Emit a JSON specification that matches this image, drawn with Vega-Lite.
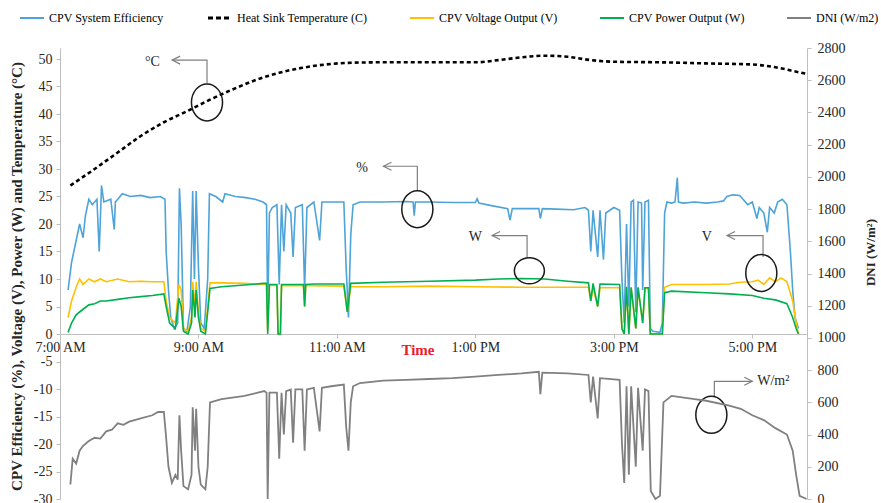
{
  "$schema": "https://vega.github.io/schema/vega-lite/v6.json",
  "width": 747,
  "height": 451,
  "autosize": {"type": "none"},
  "padding": {"left": 60, "top": 48, "right": 74, "bottom": 4},
  "background": "white",
  "config": {
    "font": "Liberation Serif",
    "view": {"stroke": null},
    "axis": {"grid": false, "domainColor": "#bfbfbf", "tickColor": "#bfbfbf", "labelColor": "#262626", "labelFontSize": 14, "labelFont": "Liberation Serif", "titleFont": "Liberation Serif", "titleColor": "#262626", "tickSize": 4}
  },
  "datasets": {
    "eff": [
      {"t":427,"v":8},{"t":430,"v":13},{"t":434,"v":17},{"t":437,"v":20},{"t":440,"v":17.5},{"t":442,"v":21.5},{"t":445,"v":24.5},{"t":448,"v":23.5},{"t":452,"v":24.5},{"t":454,"v":15},{"t":456,"v":27},{"t":458,"v":24},{"t":464,"v":24.5},{"t":467,"v":19},{"t":468,"v":24},{"t":474,"v":25.5},{"t":481,"v":25},{"t":490,"v":25.2},{"t":498,"v":24.8},{"t":507,"v":25},{"t":511,"v":24.5},{"t":512,"v":15},{"t":514,"v":8},{"t":516,"v":3},{"t":519,"v":1},{"t":522,"v":2},{"t":523.5,"v":26.5},{"t":525,"v":20},{"t":527,"v":1},{"t":530,"v":0.5},{"t":533,"v":5},{"t":535,"v":26},{"t":536.5,"v":10},{"t":538,"v":26},{"t":540,"v":12},{"t":542,"v":2},{"t":545,"v":1},{"t":548,"v":10},{"t":549.5,"v":25.5},{"t":555,"v":25},{"t":561,"v":24},{"t":563,"v":25.5},{"t":572,"v":25},{"t":581,"v":24.8},{"t":589,"v":24.5},{"t":596,"v":24},{"t":599,"v":23.5},{"t":600,"v":3},{"t":601.5,"v":22},{"t":604,"v":23},{"t":608,"v":23.5},{"t":610,"v":9},{"t":612,"v":23.5},{"t":614,"v":15},{"t":616,"v":23.5},{"t":620,"v":22},{"t":622,"v":14},{"t":624,"v":23},{"t":630,"v":23.5},{"t":632,"v":8},{"t":634,"v":23},{"t":640,"v":24},{"t":645,"v":17},{"t":647,"v":24},{"t":655,"v":24},{"t":666,"v":24},{"t":668,"v":12},{"t":670,"v":3},{"t":672,"v":18},{"t":674,"v":23.5},{"t":680,"v":24},{"t":700,"v":24},{"t":720,"v":24.1},{"t":726,"v":24},{"t":727,"v":21.5},{"t":728,"v":24},{"t":740,"v":24},{"t":760,"v":23.9},{"t":780,"v":23.9},{"t":781.5,"v":24.6},{"t":783,"v":23.8},{"t":795,"v":23.3},{"t":808,"v":22.8},{"t":810,"v":20.7},{"t":812,"v":22.8},{"t":825,"v":22.8},{"t":835,"v":22.8},{"t":836.3,"v":21},{"t":838,"v":22.8},{"t":850,"v":22.7},{"t":865,"v":22.6},{"t":875,"v":23},{"t":878,"v":22.5},{"t":880,"v":15},{"t":882,"v":22.5},{"t":886,"v":14},{"t":888,"v":22.5},{"t":891,"v":13.5},{"t":893,"v":22},{"t":900,"v":23},{"t":905,"v":22.5},{"t":907,"v":10},{"t":909,"v":2},{"t":911,"v":20},{"t":913,"v":5},{"t":915,"v":24},{"t":917,"v":24.3},{"t":919,"v":4},{"t":921,"v":24},{"t":924,"v":23.8},{"t":925,"v":8},{"t":927,"v":24},{"t":930,"v":24.3},{"t":931.6,"v":1},{"t":934,"v":0.5},{"t":940,"v":0.3},{"t":942,"v":2},{"t":944,"v":22},{"t":946,"v":24},{"t":950,"v":23.8},{"t":953,"v":24},{"t":955,"v":28.4},{"t":956,"v":24},{"t":960,"v":23.8},{"t":970,"v":24},{"t":980,"v":23.8},{"t":990,"v":24},{"t":995,"v":24.2},{"t":998,"v":25},{"t":1003,"v":25.3},{"t":1009,"v":25.2},{"t":1012,"v":24.5},{"t":1016,"v":23.5},{"t":1020,"v":24},{"t":1024,"v":21},{"t":1026,"v":23},{"t":1030,"v":22},{"t":1033,"v":18.5},{"t":1035,"v":23},{"t":1039,"v":22},{"t":1042,"v":24},{"t":1046,"v":24.5},{"t":1050,"v":23.5},{"t":1053,"v":15},{"t":1055,"v":8},{"t":1057,"v":3},{"t":1060,"v":1}
    ],
    "volt": [
      {"t":427,"v":3},{"t":430,"v":6},{"t":434,"v":8.5},{"t":437,"v":10},{"t":440,"v":9},{"t":445,"v":10},{"t":450,"v":9.5},{"t":455,"v":10},{"t":460,"v":9.5},{"t":470,"v":10},{"t":480,"v":9.5},{"t":490,"v":9.6},{"t":500,"v":9.5},{"t":510,"v":9.5},{"t":512,"v":6},{"t":515,"v":3},{"t":520,"v":2},{"t":523,"v":9},{"t":525,"v":8},{"t":527,"v":1},{"t":531,"v":0.5},{"t":534,"v":3},{"t":535,"v":9.5},{"t":537,"v":5},{"t":538,"v":9.5},{"t":540,"v":4},{"t":542,"v":1},{"t":546,"v":0.5},{"t":548,"v":5},{"t":550,"v":9.3},{"t":560,"v":9.3},{"t":580,"v":9.2},{"t":596,"v":9},{"t":599,"v":9},{"t":600,"v":0.5},{"t":601.5,"v":8.9},{"t":608,"v":8.8},{"t":609,"v":0},{"t":611,"v":0},{"t":612,"v":8.8},{"t":620,"v":8.8},{"t":631,"v":8.8},{"t":632,"v":5},{"t":633,"v":8.8},{"t":640,"v":8.8},{"t":666,"v":8.7},{"t":669,"v":4},{"t":672,"v":8.6},{"t":700,"v":8.6},{"t":740,"v":8.7},{"t":780,"v":8.6},{"t":820,"v":8.5},{"t":860,"v":8.5},{"t":878,"v":8.5},{"t":880,"v":6},{"t":882,"v":8.4},{"t":886,"v":5},{"t":888,"v":8.4},{"t":905,"v":8.4},{"t":907,"v":1},{"t":909,"v":0},{"t":911,"v":8.3},{"t":913,"v":0},{"t":915,"v":8.3},{"t":919,"v":1},{"t":921,"v":8.3},{"t":925,"v":2},{"t":927,"v":8.3},{"t":930,"v":8.3},{"t":931.6,"v":0},{"t":942,"v":0},{"t":944,"v":8.5},{"t":950,"v":9},{"t":980,"v":9},{"t":1000,"v":9.1},{"t":1010,"v":9.4},{"t":1020,"v":9.5},{"t":1025,"v":9.8},{"t":1030,"v":9},{"t":1035,"v":10.2},{"t":1040,"v":9.5},{"t":1045,"v":10.2},{"t":1050,"v":9.5},{"t":1055,"v":6},{"t":1058,"v":2},{"t":1060,"v":0}
    ],
    "pow": [
      {"t":427,"v":0.3},{"t":430,"v":2},{"t":434,"v":3.5},{"t":437,"v":4},{"t":440,"v":4.5},{"t":445,"v":5.3},{"t":450,"v":5.5},{"t":455,"v":6},{"t":460,"v":6},{"t":470,"v":6.3},{"t":480,"v":6.6},{"t":490,"v":6.8},{"t":500,"v":7},{"t":510,"v":7.3},{"t":512,"v":5},{"t":515,"v":2},{"t":520,"v":1},{"t":523,"v":6.5},{"t":525,"v":5},{"t":527,"v":0.5},{"t":531,"v":0},{"t":534,"v":2},{"t":535,"v":8},{"t":537,"v":3},{"t":538,"v":8},{"t":540,"v":3},{"t":542,"v":0.5},{"t":546,"v":0},{"t":548,"v":4},{"t":550,"v":8.3},{"t":560,"v":8.6},{"t":580,"v":8.9},{"t":596,"v":9.2},{"t":599,"v":9.2},{"t":600,"v":0},{"t":601.5,"v":9},{"t":608,"v":9},{"t":609,"v":0},{"t":611,"v":0},{"t":612,"v":9},{"t":620,"v":9},{"t":631,"v":9},{"t":632,"v":5},{"t":633,"v":9},{"t":640,"v":9.1},{"t":666,"v":9.1},{"t":669,"v":4},{"t":672,"v":9.2},{"t":700,"v":9.4},{"t":740,"v":9.6},{"t":780,"v":9.8},{"t":800,"v":10},{"t":820,"v":10.1},{"t":840,"v":10},{"t":860,"v":9.6},{"t":878,"v":9.3},{"t":880,"v":6},{"t":882,"v":9.2},{"t":886,"v":5},{"t":888,"v":9.1},{"t":905,"v":9},{"t":907,"v":1},{"t":909,"v":0},{"t":911,"v":8.6},{"t":913,"v":0},{"t":915,"v":8.5},{"t":919,"v":1},{"t":921,"v":8.5},{"t":925,"v":2},{"t":927,"v":8.4},{"t":930,"v":8.4},{"t":931.6,"v":0},{"t":942,"v":0},{"t":944,"v":7.5},{"t":950,"v":7.8},{"t":980,"v":7.5},{"t":1000,"v":7.3},{"t":1020,"v":7},{"t":1030,"v":6.5},{"t":1040,"v":6.2},{"t":1050,"v":5.5},{"t":1055,"v":3},{"t":1058,"v":1},{"t":1060,"v":0}
    ],
    "temp": [
      {"t":429,"v":27},{"t":450,"v":30},{"t":470,"v":33},{"t":490,"v":36},{"t":510,"v":38.5},{"t":530,"v":40.5},{"t":550,"v":42.6},{"t":570,"v":44.5},{"t":590,"v":46.2},{"t":610,"v":47.5},{"t":630,"v":48.4},{"t":650,"v":49},{"t":670,"v":49.3},{"t":700,"v":49.4},{"t":740,"v":49.4},{"t":780,"v":49.4},{"t":800,"v":49.8},{"t":820,"v":50.3},{"t":840,"v":50.6},{"t":860,"v":50.4},{"t":880,"v":49.8},{"t":900,"v":49.5},{"t":940,"v":49.4},{"t":980,"v":49.2},{"t":1020,"v":49},{"t":1040,"v":48.5},{"t":1060,"v":47.6},{"t":1067,"v":47.3}
    ],
    "dni": [
      {"t":429,"v":90},{"t":431,"v":250},{"t":434,"v":220},{"t":437,"v":300},{"t":440,"v":330},{"t":445,"v":360},{"t":450,"v":380},{"t":455,"v":375},{"t":460,"v":420},{"t":465,"v":430},{"t":470,"v":470},{"t":475,"v":460},{"t":480,"v":480},{"t":490,"v":500},{"t":500,"v":520},{"t":505,"v":540},{"t":510,"v":540},{"t":512,"v":380},{"t":514,"v":200},{"t":517,"v":100},{"t":520,"v":150},{"t":522,"v":120},{"t":523.5,"v":520},{"t":525,"v":300},{"t":527,"v":80},{"t":531,"v":60},{"t":534,"v":150},{"t":535,"v":570},{"t":537,"v":300},{"t":538,"v":560},{"t":540,"v":200},{"t":542,"v":90},{"t":546,"v":60},{"t":548,"v":200},{"t":550,"v":600},{"t":560,"v":620},{"t":580,"v":640},{"t":597,"v":670},{"t":599,"v":660},{"t":600,"v":0},{"t":601.5,"v":660},{"t":608,"v":660},{"t":610,"v":250},{"t":612,"v":660},{"t":614,"v":400},{"t":616,"v":670},{"t":620,"v":680},{"t":622,"v":350},{"t":624,"v":680},{"t":630,"v":680},{"t":632,"v":300},{"t":634,"v":680},{"t":640,"v":690},{"t":645,"v":420},{"t":647,"v":690},{"t":655,"v":700},{"t":666,"v":710},{"t":668,"v":450},{"t":670,"v":300},{"t":672,"v":600},{"t":674,"v":700},{"t":680,"v":720},{"t":700,"v":735},{"t":720,"v":740},{"t":740,"v":745},{"t":760,"v":750},{"t":780,"v":760},{"t":800,"v":770},{"t":820,"v":780},{"t":835,"v":790},{"t":836.3,"v":650},{"t":838,"v":785},{"t":860,"v":780},{"t":878,"v":770},{"t":880,"v":600},{"t":882,"v":760},{"t":886,"v":500},{"t":888,"v":750},{"t":905,"v":740},{"t":907,"v":350},{"t":909,"v":100},{"t":911,"v":700},{"t":913,"v":150},{"t":915,"v":700},{"t":919,"v":200},{"t":921,"v":690},{"t":925,"v":300},{"t":927,"v":680},{"t":930,"v":670},{"t":932,"v":50},{"t":936,"v":0},{"t":940,"v":20},{"t":943,"v":600},{"t":950,"v":640},{"t":970,"v":620},{"t":980,"v":610},{"t":1000,"v":580},{"t":1010,"v":560},{"t":1020,"v":520},{"t":1030,"v":490},{"t":1040,"v":440},{"t":1050,"v":400},{"t":1055,"v":300},{"t":1058,"v":150},{"t":1061,"v":20},{"t":1067,"v":0}
    ],
    "conn": [
      {"g":"c","o":1,"t":547.4,"v":45.6},{"g":"c","o":2,"t":547.4,"v":49.8},{"g":"c","o":3,"t":517.2,"v":49.8},
      {"g":"pc","o":1,"t":729.7,"v":26.1},{"g":"pc","o":2,"t":729.7,"v":30.5},{"g":"pc","o":3,"t":700.3,"v":30.5},
      {"g":"w","o":1,"t":824.8,"v":13.8},{"g":"w","o":2,"t":824.8,"v":17.9},{"g":"w","o":3,"t":794.5,"v":17.9},
      {"g":"v","o":1,"t":1029.3,"v":14},{"g":"v","o":2,"t":1029.3,"v":17.9},{"g":"v","o":3,"t":998.1,"v":17.9},
      {"g":"d","o":1,"t":987.1,"v":-11.5},{"g":"d","o":2,"t":987.1,"v":-8.6},{"g":"d","o":3,"t":1020,"v":-8.6}
    ],
    "ell": [
      {"g":"c","t":547.4,"v":42.1},{"g":"pc","t":729.7,"v":22.7},{"g":"v","t":1027.8,"v":11.1},{"g":"d","t":984.5,"v":-14.7},{"g":"w","t":826.8,"v":11.5}
    ],
    "lab": [
      {"s":"°C","t":500.1,"v":49.5},{"s":"%","t":681.7,"v":30.2},{"s":"W","t":780,"v":17.6},{"s":"V","t":980.6,"v":17.6},{"s":"W/m²","t":1024.3,"v":-8.6}
    ]
  },
  "layer": [
    {
      "encoding": {
        "x": {"field": "t", "type": "quantitative", "scale": {"domain": [420, 1067.4], "nice": false, "zero": false},
          "axis": {"values": [420, 540, 660, 780, 900, 1020], "labelExpr": "datum.value==420?'7:00 AM':datum.value==540?'9:00 AM':datum.value==660?'11:00 AM':datum.value==780?'1:00 PM':datum.value==900?'3:00 PM':'5:00 PM'", "labelFlush": false, "labelOverlap": false, "offset": -165, "title": "Time", "titleColor": "#e8202a", "titleFontWeight": "bold", "titleFontSize": 15, "titleX": 357.5, "titleY": 15, "titleBaseline": "middle", "titleAlign": "center", "labelPadding": 2}},
        "y": {"field": "v", "type": "quantitative", "scale": {"domain": [-30, 52], "nice": false, "zero": false},
          "axis": {"values": [-30, -25, -20, -15, -10, -5, 0, 5, 10, 15, 20, 25, 30, 35, 40, 45, 50], "labelExpr": "'' + datum.value", "labelOverlap": false, "labelFlush": false, "title": "CPV Efficiency (%), Voltage (V), Power (W) and Temperature (°C)", "titleFontWeight": "bold", "titleFontSize": 15, "titleX": -44, "titleY": 228, "titleAngle": -90, "titleAlign": "center", "titleBaseline": "middle", "labelPadding": 4}}
      },
      "layer": [
        {
          "data": {"name": "eff"},
          "mark": {"type": "line", "strokeWidth": 1.6},
          "encoding": {
            "color": {"datum": "CPV System Efficiency", "type": "nominal",
              "scale": {"domain": ["CPV System Efficiency", "Heat Sink Temperature (C)", "CPV Voltage Output (V)", "CPV Power Output (W)", "DNI (W/m2)"], "range": ["#4ea3d8", "#000000", "#ffc000", "#00b050", "#808080"]},
              "legend": {"orient": "none", "legendX": -34, "legendY": -36, "direction": "horizontal", "columns": 5, "title": null, "symbolType": "stroke", "symbolSize": 576, "symbolStrokeWidth": 2, "labelFontSize": 12, "labelFont": "Liberation Serif", "labelColor": "#000000", "columnPadding": 38, "labelOffset": 11, "labelLimit": 300,
                "encode": {"symbols": {"update": {"strokeDash": {"signal": "datum.value=='Heat Sink Temperature (C)'?[5,3]:[1,0]"}, "strokeWidth": {"signal": "datum.value=='Heat Sink Temperature (C)'?3:2"}}}}}}
          }
        },
        {
          "data": {"name": "temp"},
          "mark": {"type": "line", "strokeWidth": 2.6, "strokeDash": [4, 3], "interpolate": "monotone"},
          "encoding": {"color": {"datum": "Heat Sink Temperature (C)", "type": "nominal"}}
        },
        {
          "data": {"name": "volt"},
          "mark": {"type": "line", "strokeWidth": 1.6},
          "encoding": {"color": {"datum": "CPV Voltage Output (V)", "type": "nominal"}}
        },
        {
          "data": {"name": "pow"},
          "mark": {"type": "line", "strokeWidth": 1.6},
          "encoding": {"color": {"datum": "CPV Power Output (W)", "type": "nominal"}}
        },
        {
          "data": {"name": "conn"},
          "mark": {"type": "line", "color": "#7f7f7f", "strokeWidth": 1.2},
          "encoding": {"detail": {"field": "g"}, "order": {"field": "o"}}
        },
        {
          "data": {"name": "conn"},
          "transform": [{"filter": "datum.o==3 && datum.g!='d'"}],
          "mark": {"type": "point", "shape": "M 2 -1 L 0 0 L 2 1", "size": 64, "filled": false, "stroke": "#7f7f7f", "strokeWidth": 1.2, "opacity": 1},
          "encoding": {}
        },
        {
          "data": {"name": "conn"},
          "transform": [{"filter": "datum.o==3 && datum.g=='d'"}],
          "mark": {"type": "point", "shape": "M -2 -1 L 0 0 L -2 1", "size": 64, "filled": false, "stroke": "#7f7f7f", "strokeWidth": 1.2, "opacity": 1},
          "encoding": {}
        },
        {
          "data": {"name": "ell"},
          "transform": [{"filter": "datum.g!='w'"}],
          "mark": {"type": "point", "shape": "M 0.84 0 C 0.84 0.5523 0.464 1 0 1 C -0.464 1 -0.84 0.5523 -0.84 0 C -0.84 -0.5523 -0.464 -1 0 -1 C 0.464 -1 0.84 -0.5523 0.84 0 Z", "size": 1369, "filled": false, "stroke": "#1a1a1a", "strokeWidth": 1.5, "opacity": 1},
          "encoding": {}
        },
        {
          "data": {"name": "ell"},
          "transform": [{"filter": "datum.g=='w'"}],
          "mark": {"type": "point", "shape": "M 1 0 C 1 0.48 0.5523 0.87 0 0.87 C -0.5523 0.87 -1 0.48 -1 0 C -1 -0.48 -0.5523 -0.87 0 -0.87 C 0.5523 -0.87 1 -0.48 1 0 Z", "size": 900, "filled": false, "stroke": "#1a1a1a", "strokeWidth": 1.5, "opacity": 1},
          "encoding": {}
        },
        {
          "data": {"name": "lab"},
          "transform": [{"filter": "datum.s!='W/m²'"}],
          "mark": {"type": "text", "font": "Liberation Serif", "fontSize": 14, "color": "#262626", "align": "center", "baseline": "middle"},
          "encoding": {"text": {"field": "s"}}
        },
        {
          "data": {"name": "lab"},
          "transform": [{"filter": "datum.s=='W/m²'"}],
          "mark": {"type": "text", "font": "Liberation Serif", "fontSize": 14, "color": "#262626", "align": "left", "baseline": "middle"},
          "encoding": {"text": {"field": "s"}}
        }
      ]
    },
    {
      "data": {"name": "dni"},
      "mark": {"type": "line", "strokeWidth": 1.8},
      "encoding": {
        "x": {"field": "t", "type": "quantitative"},
        "y": {"field": "v", "type": "quantitative", "scale": {"domain": [0, 2800], "nice": false},
          "axis": {"orient": "right", "format": "d", "values": [0, 200, 400, 600, 800, 1000, 1200, 1400, 1600, 1800, 2000, 2200, 2400, 2600, 2800], "title": "DNI (W/m²)", "titleFontWeight": "bold", "titleFontSize": 13, "titleAngle": -90, "titleX": 63, "titleY": 204, "titleAlign": "center", "titleBaseline": "middle", "labelPadding": 6}},
        "color": {"datum": "DNI (W/m2)", "type": "nominal"}
      }
    }
  ],
  "resolve": {"scale": {"y": "independent"}}
}
